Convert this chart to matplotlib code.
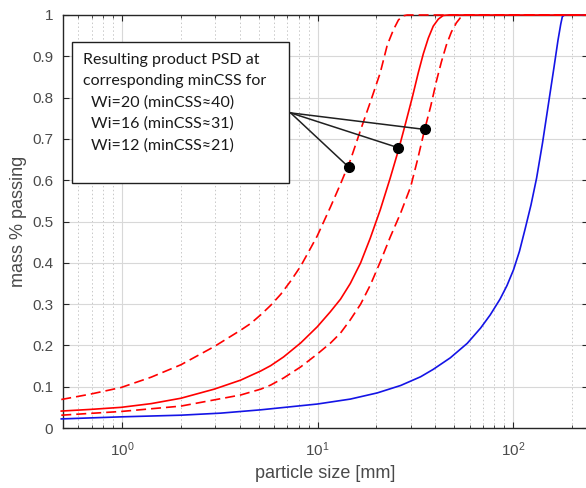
import matplotlib
matplotlib.use("Agg")
import matplotlib.pyplot as plt
from matplotlib.patches import Rectangle
from matplotlib.ticker import LogLocator, NullFormatter

# feed PSD (blue)
x_feed = [0.49, 0.99, 2.0, 3.2, 5.12, 9.96, 14.7, 20.2, 26.6, 33.6, 39.0, 47.7, 58.2, 68.1,
          76.3, 85.6, 92.9, 100.3, 107.6, 115.0, 123.2, 131.6, 141.1, 151.0, 161.6,
          169.3, 174.9, 178.2, 182.5, 240]
y_feed = [0.022, 0.027, 0.031, 0.036, 0.044, 0.058, 0.070, 0.085, 0.103, 0.124, 0.142, 0.170,
          0.205, 0.242, 0.274, 0.312, 0.345, 0.383, 0.428, 0.482, 0.540, 0.605, 0.690, 0.782,
          0.874, 0.939, 0.978, 0.996, 1.0, 1.0]

# product PSD, Wi=16 (solid red)
x_wi16 = [0.49, 0.69, 0.99, 1.41, 2.0, 2.96, 4.05, 4.55, 5.12, 5.76, 6.7, 8.2, 9.96, 11.6,
          13.1, 14.7, 16.6, 18.6, 20.9, 23.5, 25.9, 28.1, 30.5, 32.7, 34.7, 36.8, 39.0,
          41.4, 43.9, 46.5, 240]
y_wi16 = [0.041, 0.045, 0.050, 0.059, 0.072, 0.094, 0.116, 0.127, 0.138, 0.151, 0.172, 0.206,
          0.245, 0.281, 0.312, 0.350, 0.400, 0.460, 0.528, 0.605, 0.673, 0.736, 0.801, 0.860,
          0.906, 0.944, 0.973, 0.990, 0.999, 1.0, 1.0]

# product PSD, Wi=12 (dashed red, left)
x_wi12 = [0.49, 0.69, 0.99, 1.41, 2.0, 2.96, 4.05, 4.55, 5.12, 5.76, 6.49, 7.29, 8.2, 9.2,
          9.96, 11.66, 13.1, 14.7, 16.6, 18.6, 20.9, 22.7, 24.4, 25.9, 27.4, 28.7, 240]
y_wi12 = [0.069, 0.082, 0.098, 0.123, 0.153, 0.197, 0.237, 0.253, 0.274, 0.297, 0.324, 0.356,
          0.392, 0.435, 0.465, 0.536, 0.591, 0.648, 0.722, 0.789, 0.860, 0.927, 0.964, 0.988,
          0.998, 1.0, 1.0]

# product PSD, Wi=20 (dashed red, right)
x_wi20 = [0.49, 0.99, 2.0, 2.96, 4.05, 4.55, 5.12, 5.76, 6.7, 8.2, 9.96, 11.66, 13.1, 14.7,
          16.6, 18.6, 20.9, 23.5, 26.6, 29.9, 32.4, 35.1, 37.9, 40.4, 42.9, 45.5, 48.3,
          51.2, 53.6, 56.9, 240]
y_wi20 = [0.031, 0.040, 0.053, 0.068, 0.080, 0.087, 0.094, 0.104, 0.121, 0.148, 0.179, 0.206,
          0.230, 0.262, 0.300, 0.346, 0.402, 0.462, 0.521, 0.584, 0.649, 0.719, 0.780, 0.838,
          0.886, 0.927, 0.959, 0.981, 0.993, 1.0, 1.0]

# annotation points (minCSS)
dot_x = [14.4, 25.7, 35.2]
dot_y = [0.632, 0.679, 0.723]
anchor = (7.28, 0.763)

box_lines = ["Resulting product PSD at", "corresponding minCSS for",
             "Wi=20 (minCSS\u224840)", "Wi=16 (minCSS\u224831)", "Wi=12 (minCSS\u224821)"]

yticks = [0, 0.1, 0.2, 0.3, 0.4, 0.5, 0.6, 0.7, 0.8, 0.9, 1]
ytick_labels = ["0", "0.1", "0.2", "0.3", "0.4", "0.5", "0.6", "0.7", "0.8", "0.9", "1"]

plt.rcParams['font.family'] = ['Liberation Sans', 'DejaVu Sans']
axcol = '#262626'
labcol = '#4a4a4a'

fig = plt.figure(figsize=(5.86, 4.88), dpi=100)
ax = fig.add_axes([63/586, 60/488, 525/586, 413/488])

ax.plot(x_feed, y_feed, color='#1414e6', lw=1.2, zorder=3, clip_on=False)
ax.plot(x_wi16, y_wi16, color='#ff0000', lw=1.2, zorder=3, clip_on=False)
ax.plot(x_wi12, y_wi12, color='#ff0000', lw=1.2, dashes=(6, 3), zorder=3, clip_on=False)
ax.plot(x_wi20, y_wi20, color='#ff0000', lw=1.2, dashes=(6, 3), zorder=3, clip_on=False)

for dx, dy in zip(dot_x, dot_y):
    ax.plot([anchor[0], dx], [anchor[1], dy], color='#202020', lw=1.1, zorder=4)
ax.plot(dot_x, dot_y, 'o', color='black', ms=7, zorder=5)

ax.set_xscale('log')
ax.set_xlim(0.5, 241)
ax.set_ylim(0, 1)
ax.set_yticks(yticks)
ax.set_yticklabels(ytick_labels)
ax.xaxis.set_minor_locator(LogLocator(base=10, subs=range(2, 10), numticks=20))
ax.xaxis.set_minor_formatter(NullFormatter())

ax.grid(True, which='major', color='#d8d8d8', lw=0.8, zorder=0)
ax.grid(True, which='minor', axis='x', color='#c8c8c8', lw=0.7, ls=(0, (1.5, 2.5)), zorder=0)
ax.set_axisbelow(True)

ax.tick_params(which='both', direction='in', top=True, right=True, colors=axcol,
               labelcolor=labcol, labelsize=11)
ax.tick_params(which='major', length=4, width=0.8)
ax.tick_params(which='minor', length=2.5, width=0.6)
ax.tick_params(axis='x', pad=9)
ax.tick_params(axis='y', pad=7)
for s in ax.spines.values():
    s.set_color(axcol)
    s.set_linewidth(1.0)

ax.set_xlabel("particle size [mm]", fontsize=13, color=labcol, labelpad=4)
ax.set_ylabel("mass % passing", fontsize=13, color=labcol, labelpad=4)

# text box
bx0, bx1 = (72 - 63) / 525, (289 - 63) / 525
by0, by1 = (428 - 183) / 413, (428 - 42) / 413
ax.add_patch(Rectangle((bx0, by0), bx1 - bx0, by1 - by0, transform=ax.transAxes,
                       facecolor='white', edgecolor='#202020', lw=1.0, zorder=6))
line_py = [60, 81, 103, 124, 146]
line_px = [83, 83, 91, 91, 91]
for txt, px, py in zip(box_lines, line_px, line_py):
    ax.text((px - 63) / 525, (428 - py) / 413, txt, transform=ax.transAxes,
            fontsize=11.5, family=['Lato', 'DejaVu Sans'], color='#1a1a1a',
            ha='left', va='center', zorder=7)

fig.savefig("out.png", dpi=100)
